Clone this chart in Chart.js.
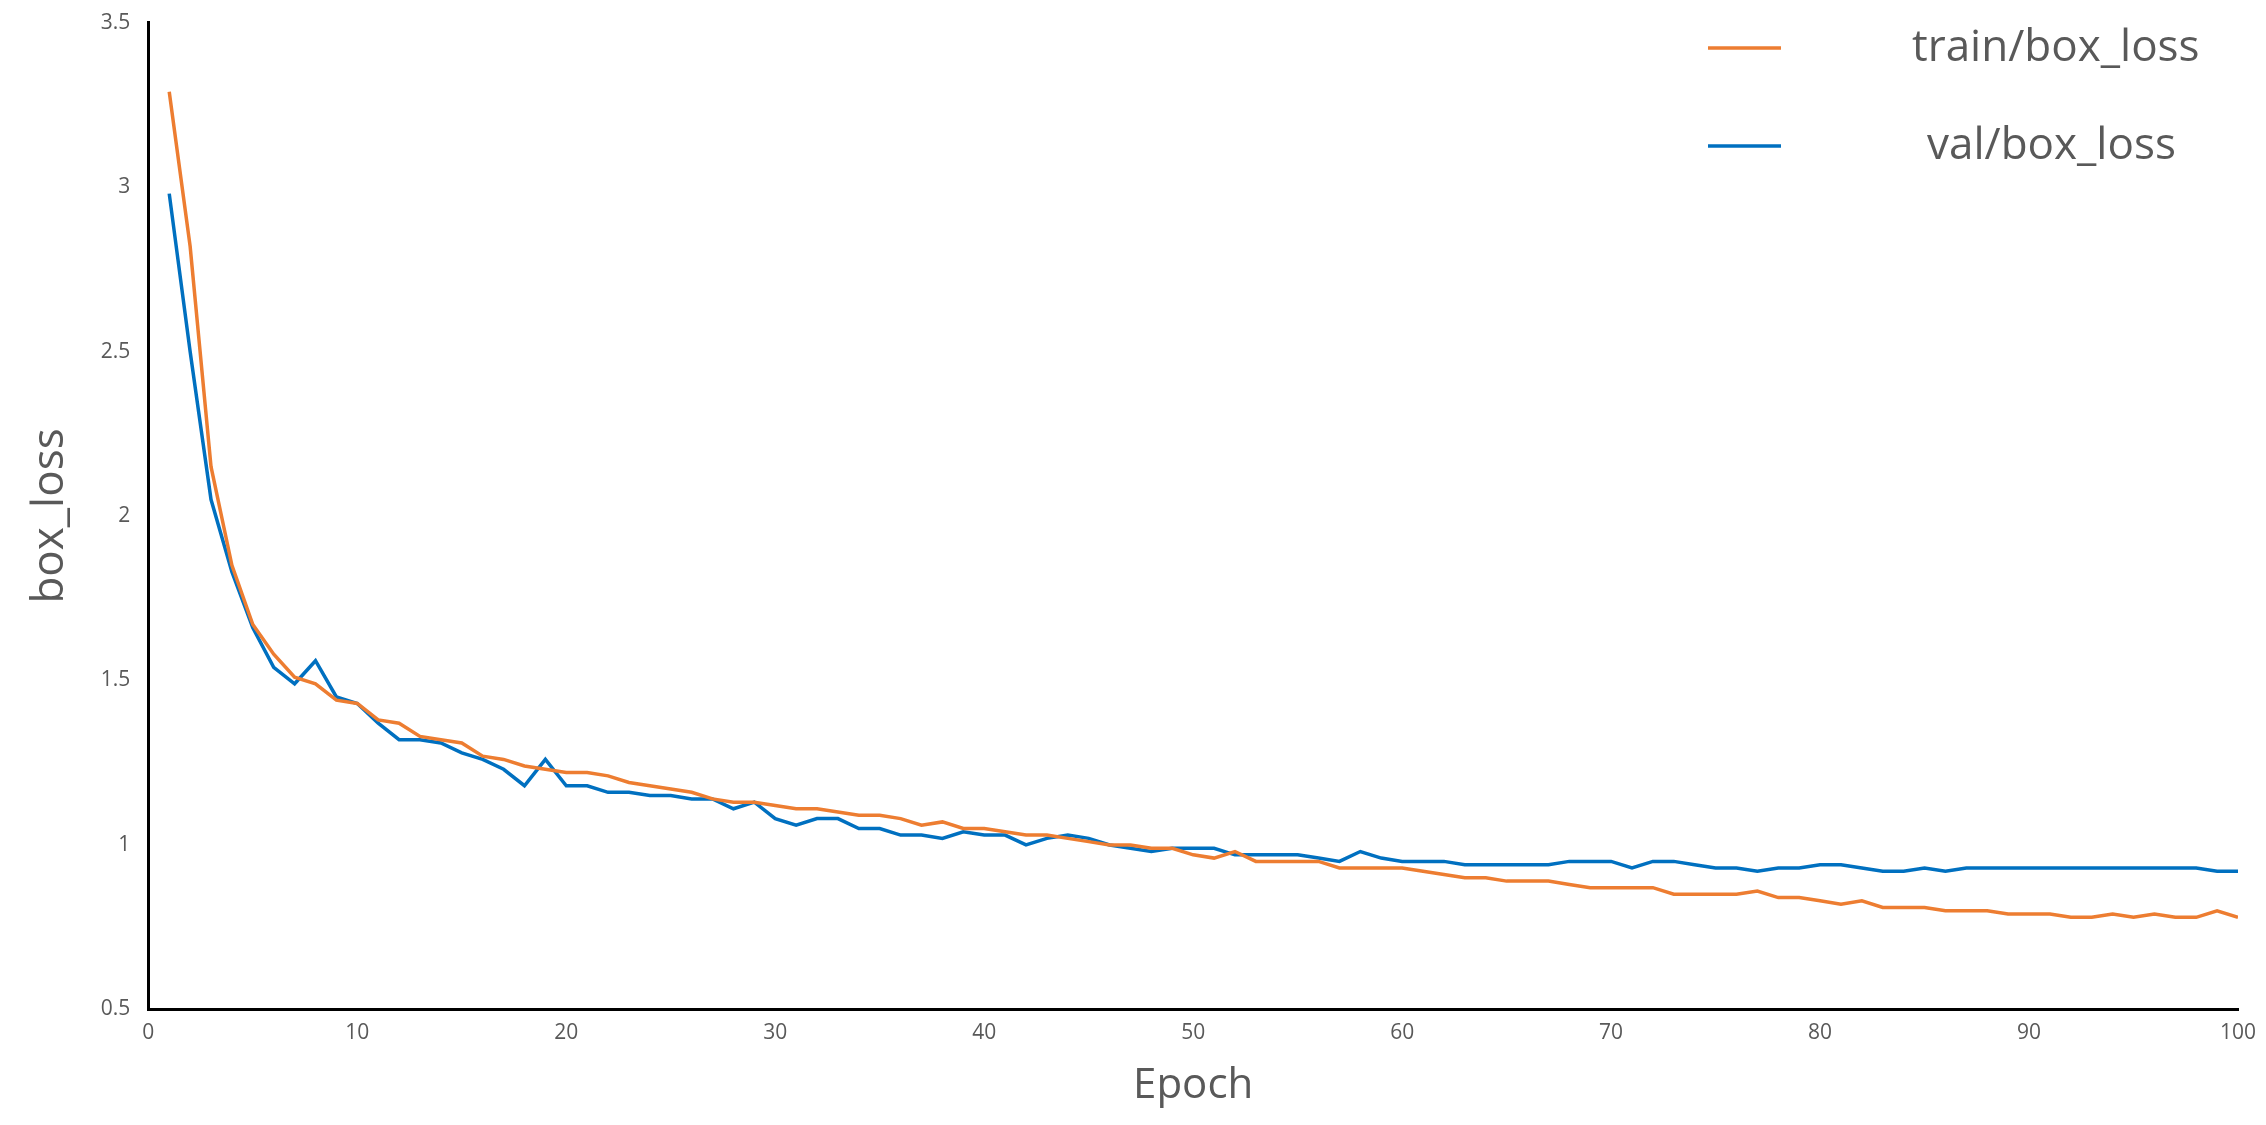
<!DOCTYPE html>
<html><head><meta charset="utf-8">
<script src="https://cdn.jsdelivr.net/npm/chart.js@4/dist/chart.umd.min.js"></script>
<style>html,body{margin:0;padding:0;background:#fff;}canvas{display:block;}</style>
</head><body>
<canvas id="c" width="2266" height="1125"></canvas>
<script>
const epochs = Array.from({length:100},(_,i)=>i+1);
const trainBoxLoss = [3.29,2.82,2.15,1.85,1.67,1.58,1.51,1.49,1.44,1.43,1.38,1.37,1.33,1.32,1.31,1.27,1.26,1.24,1.23,1.22,1.22,1.21,1.19,1.18,1.17,1.16,1.14,1.13,1.13,1.12,1.11,1.11,1.10,1.09,1.09,1.08,1.06,1.07,1.05,1.05,1.04,1.03,1.03,1.02,1.01,1.00,1.00,0.99,0.99,0.97,0.96,0.98,0.95,0.95,0.95,0.95,0.93,0.93,0.93,0.93,0.92,0.91,0.90,0.90,0.89,0.89,0.89,0.88,0.87,0.87,0.87,0.87,0.85,0.85,0.85,0.85,0.86,0.84,0.84,0.83,0.82,0.83,0.81,0.81,0.81,0.80,0.80,0.80,0.79,0.79,0.79,0.78,0.78,0.79,0.78,0.79,0.78,0.78,0.80,0.78];
const valBoxLoss = [2.98,2.50,2.05,1.83,1.66,1.54,1.49,1.56,1.45,1.43,1.37,1.32,1.32,1.31,1.28,1.26,1.23,1.18,1.26,1.18,1.18,1.16,1.16,1.15,1.15,1.14,1.14,1.11,1.13,1.08,1.06,1.08,1.08,1.05,1.05,1.03,1.03,1.02,1.04,1.03,1.03,1.00,1.02,1.03,1.02,1.00,0.99,0.98,0.99,0.99,0.99,0.97,0.97,0.97,0.97,0.96,0.95,0.98,0.96,0.95,0.95,0.95,0.94,0.94,0.94,0.94,0.94,0.95,0.95,0.95,0.93,0.95,0.95,0.94,0.93,0.93,0.92,0.93,0.93,0.94,0.94,0.93,0.92,0.92,0.93,0.92,0.93,0.93,0.93,0.93,0.93,0.93,0.93,0.93,0.93,0.93,0.93,0.93,0.92,0.92];
const seriesLabels = ['train/box_loss','val/box_loss'];
const xTitle = 'Epoch', yTitle = 'box_loss';

const gray = '#595959';
const legendPlugin = {
  id:'cornerLegend',
  afterDraw(chart){
    const ctx = chart.ctx;
    const rows = [{y:48, tx:1912}, {y:146, tx:1927}];
    ctx.save();
    chart.data.datasets.forEach((ds,i)=>{
      const r = rows[i];
      ctx.strokeStyle = ds.borderColor; ctx.lineWidth = 3.5;
      ctx.beginPath(); ctx.moveTo(1708, r.y); ctx.lineTo(1781, r.y); ctx.stroke();
      ctx.fillStyle = gray; ctx.font = '44px "Open Sans"'; ctx.textBaseline = 'middle'; ctx.textAlign='left';
      ctx.fillText(ds.label, r.tx, r.y);
    });
    ctx.restore();
  }
};
new Chart(document.getElementById('c'), {
  type: 'line',
  data: {
    datasets: [
      {label: seriesLabels[0], data: epochs.map((e,i)=>({x:e,y:trainBoxLoss[i]})), borderColor:'#ED7D31', backgroundColor:'#ED7D31', borderWidth:3.5, pointRadius:0, tension:0},
      {label: seriesLabels[1], data: epochs.map((e,i)=>({x:e,y:valBoxLoss[i]})), borderColor:'#0070C0', backgroundColor:'#0070C0', borderWidth:3.5, pointRadius:0, tension:0}
    ]
  },
  plugins:[legendPlugin],
  options: {
    responsive:false, devicePixelRatio:1, animation:false,
    layout:{padding:{left:20,right:28,top:12,bottom:10}},
    plugins:{ tooltip:{enabled:false}, legend:{display:false} },
    scales:{
      x:{type:'linear', min:0, max:100,
        ticks:{stepSize:10, color:gray, font:{family:'Open Sans', size:21}, maxRotation:0},
        grid:{display:false, drawTicks:true, tickLength:8, tickColor:'#000'},
        border:{color:'#000', width:3},
        title:{display:true, text:xTitle, color:gray, font:{family:'Open Sans', size:42}, padding:{top:12}}},
      y:{min:0.5, max:3.5,
        ticks:{stepSize:0.5, color:gray, font:{family:'Open Sans', size:21}, padding:10, callback:v=>String(v)},
        grid:{display:false, drawTicks:true, tickLength:8, tickColor:'#000'},
        border:{color:'#000', width:3},
        title:{display:true, text:yTitle, color:gray, font:{family:'Open Sans', size:44}, padding:{bottom:14}}}
    }
  }
});
</script>
</body></html>
